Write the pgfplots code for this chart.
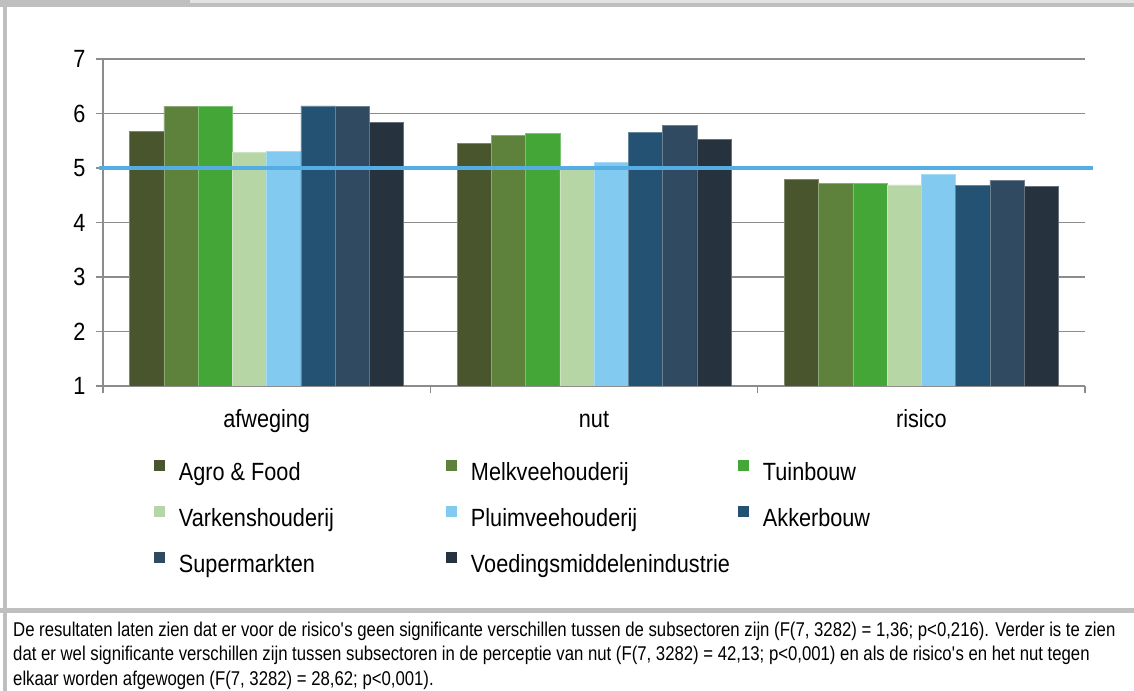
\documentclass[border=0pt]{standalone}
\usepackage{fontspec}
\setmainfont{Liberation Sans}[FakeStretch=0.87]
\newfontfamily\capfont{Liberation Sans}[FakeStretch=0.84]
\usepackage{pgfplots}
\pgfplotsset{compat=1.18}
\definecolor{cAgro}{HTML}{49552D}
\definecolor{cMelk}{HTML}{5E823B}
\definecolor{cTuin}{HTML}{45A638}
\definecolor{cVark}{HTML}{B6D7A5}
\definecolor{cPluim}{HTML}{82CAF0}
\definecolor{cAkker}{HTML}{235273}
\definecolor{cSuper}{HTML}{2F4A61}
\definecolor{cVoed}{HTML}{27323F}
\definecolor{lineblue}{HTML}{55AEE3}
\definecolor{axgrey}{HTML}{8C8C8C}
\definecolor{bordergrey}{HTML}{BFBFBF}
\definecolor{lightband}{HTML}{E2E2E2}
\pgfplotsset{
  mybar/.style={fill=#1, draw=#1!70!white, line width=0.5bp,
    legend image code/.code={\fill[fill=#1,draw=none] (0bp,0bp) rectangle (11bp,11bp);}},
}
\begin{document}
\begin{tikzpicture}[x=1bp,y=1bp]
\path[use as bounding box] (0,0) rectangle (1134,691);
\fill[white] (0,0) rectangle (1134,691);
\fill[bordergrey] (0,684) rectangle (1134,691);
\fill[lightband] (190,688) rectangle (1134,691);
\fill[bordergrey] (3,0) rectangle (7,691);
\fill[bordergrey] (0,78) rectangle (1134,83);
\begin{axis}[
  at={(103bp,305bp)}, anchor=south west,
  scale only axis, width=982bp, height=327bp,
  xmin=-0.5, xmax=2.5, ymin=1, ymax=7,
  ybar=0pt, bar width=34.25bp,
  axis x line*=bottom, axis y line*=left,
  axis line style={draw=axgrey, line width=1.6bp},
  xtick={0,1,2}, xticklabels={afweging,nut,risico},
  minor xtick={-0.5,0.5,1.5,2.5},
  ytick={1,2,3,4,5,6,7},
  ymajorgrids, major grid style={draw=axgrey, line width=1.6bp},
  tick align=outside,
  major tick length=7bp, minor tick length=7.5bp,
  major x tick style={draw=none},
  tick style={draw=axgrey, line width=1.6bp},
  /pgf/number format/assume math mode=true,
  tick label style={font=\fontsize{25}{30}\selectfont, text=black},
  yticklabel style={xshift=-7bp},
  xticklabel style={text height=18bp, text depth=6bp, yshift=-12.5bp},
  legend columns=3,
  legend cell align=left,
  legend style={draw=none, fill=none, inner sep=0pt, outer sep=0pt,
    font=\fontsize{25}{30}\selectfont,
    at={(axis description cs:0.0519,-0.2263)}, anchor=north west,
    row sep=23.5bp, column sep=0pt,
    /tikz/every odd column/.append style={column sep=14bp},
    nodes={inner sep=0pt, outer sep=0pt}},
]
\addplot[mybar=cAgro] coordinates {(0,5.67) (1,5.45) (2,4.79)};
\addlegendentry{\makebox[267bp][l]{\strut Agro \& Food}}
\addplot[mybar=cMelk] coordinates {(0,6.13) (1,5.60) (2,4.72)};
\addlegendentry{\makebox[267bp][l]{\strut Melkveehouderij}}
\addplot[mybar=cTuin] coordinates {(0,6.13) (1,5.64) (2,4.72)};
\addlegendentry{\makebox[267bp][l]{\strut Tuinbouw}}
\addplot[mybar=cVark] coordinates {(0,5.29) (1,5.00) (2,4.69)};
\addlegendentry{\makebox[267bp][l]{\strut Varkenshouderij}}
\addplot[mybar=cPluim] coordinates {(0,5.30) (1,5.10) (2,4.88)};
\addlegendentry{\makebox[267bp][l]{\strut Pluimveehouderij}}
\addplot[mybar=cAkker] coordinates {(0,6.14) (1,5.65) (2,4.68)};
\addlegendentry{\makebox[267bp][l]{\strut Akkerbouw}}
\addplot[mybar=cSuper] coordinates {(0,6.13) (1,5.78) (2,4.77)};
\addlegendentry{\makebox[267bp][l]{\strut Supermarkten}}
\addplot[mybar=cVoed] coordinates {(0,5.84) (1,5.52) (2,4.66)};
\addlegendentry{\makebox[267bp][l]{\strut Voedingsmiddelenindustrie}}
\end{axis}
\begin{axis}[
  at={(103bp,305bp)}, anchor=south west,
  scale only axis, width=982bp, height=327bp,
  xmin=-0.5, xmax=2.5, ymin=1, ymax=7,
  hide axis, clip=false,
]
\addplot[draw=lineblue, line width=3.5bp, mark=none] coordinates {(-0.512,5) (2.525,5)};
\end{axis}
\begin{scope}[font=\capfont\fontsize{20}{24}\selectfont]
\node[anchor=base west, inner sep=0pt] at (13,54.5) {De resultaten laten zien dat er voor de risico\textquotesingle s geen significante verschillen tussen de subsectoren zijn (F(7, 3282) = 1,36; p<0,216). Verder is te zien};
\node[anchor=base west, inner sep=0pt] at (13,30) {dat er wel significante verschillen zijn tussen subsectoren in de perceptie van nut (F(7, 3282) = 42,13; p<0,001) en als de risico\textquotesingle s en het nut tegen};
\node[anchor=base west, inner sep=0pt] at (13,5.5) {elkaar worden afgewogen (F(7, 3282) = 28,62; p<0,001).};
\end{scope}
\end{tikzpicture}
\end{document}
